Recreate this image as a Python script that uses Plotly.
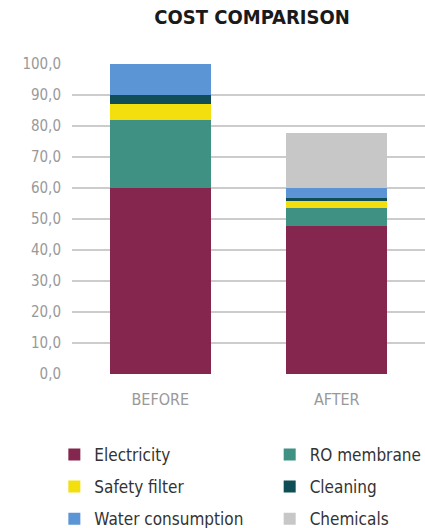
import plotly.graph_objects as go

# Cost breakdown per scenario (share of the "before" total, %)
categories = ["BEFORE", "AFTER"]
electricity = [60.0, 47.7]
ro_membrane = [22.0, 5.7]
safety_filter = [5.0, 2.7]
cleaning = [3.0, 0.6]
water_consumption = [10.0, 3.4]
chemicals = [0.0, 17.6]

y_ticks = [0, 10, 20, 30, 40, 50, 60, 70, 80, 90, 100]

FONT = "DejaVu Sans Condensed, Roboto, sans-serif"

series = [
    ("Electricity", electricity, "#85264F", "legend"),
    ("RO membrane", ro_membrane, "#3F9183", "legend2"),
    ("Safety filter", safety_filter, "#F3DF0E", "legend"),
    ("Cleaning", cleaning, "#0F4E57", "legend2"),
    ("Water consumption", water_consumption, "#5B95D5", "legend"),
    ("Chemicals", chemicals, "#C7C7C7", "legend2"),
]

fig = go.Figure()
for name, vals, color, leg in series:
    fig.add_trace(go.Bar(
        x=categories, y=vals, name=name,
        marker=dict(color=color, line=dict(width=0)),
        legend=leg, legendgroup=name,
        width=0.57,
    ))

legend_common = dict(
    orientation="v",
    font=dict(family=FONT, size=17, color="#333333"),
    traceorder="grouped",
    tracegroupgap=7,
    itemwidth=30,
    yanchor="top",
    bgcolor="rgba(0,0,0,0)",
)

fig.update_layout(
    width=425, height=528,
    barmode="stack",
    separators=",.",
    paper_bgcolor="white",
    plot_bgcolor="white",
    margin=dict(l=72, r=0, t=64, b=154, autoexpand=False),
    title=dict(
        text="<b>COST COMPARISON</b>",
        x=0.593, xanchor="center", y=0.967, yanchor="middle",
        font=dict(family=FONT, size=20, color="#1A1A1A"),
    ),
    xaxis=dict(
        tickfont=dict(family=FONT, size=16, color="#999999"),
        showgrid=False, showline=False, ticks="",
        ticklabelstandoff=14,
    ),
    yaxis=dict(
        range=[0, 100],
        tickvals=y_ticks,
        tickformat=".1f",
        tickfont=dict(family=FONT, size=15, color="#999999"),
        showgrid=True, gridcolor="#CCCCCC", gridwidth=1.5,
        zeroline=False, showline=False, ticks="",
        ticklabelstandoff=10,
    ),
    legend=dict(x=-0.05, y=-0.203, xanchor="left", **legend_common),
    legend2=dict(x=0.56, y=-0.203, xanchor="left", **legend_common),
)

fig.write_html("out.html")
